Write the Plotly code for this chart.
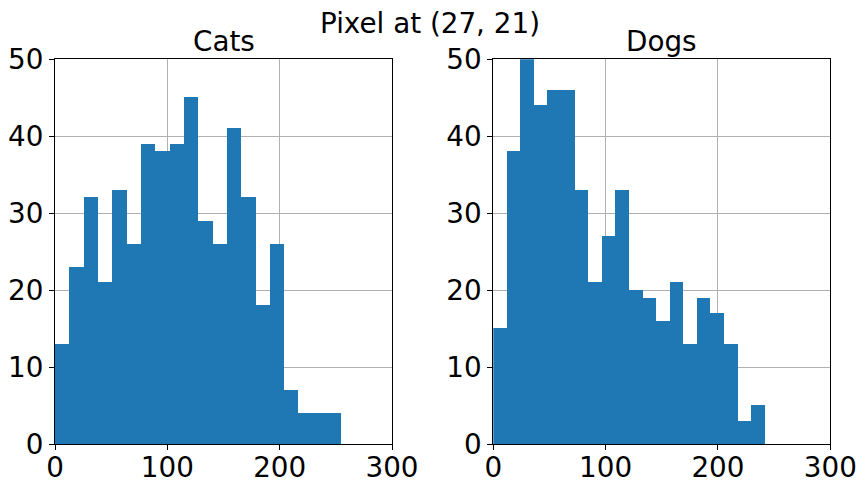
import numpy as np
import plotly.graph_objects as go

# Data (counts per bin)
cats_counts = [13, 23, 32, 21, 33, 26, 39, 38, 39, 45, 29, 26, 41, 32, 18, 26, 7, 4, 4, 4]
dogs_counts = [15, 38, 50, 44, 46, 46, 33, 21, 27, 33, 20, 19, 16, 21, 13, 19, 17, 13, 3, 5]
cats_range = [0, 255]
dogs_range = [0, 242]
x_ticks = [0, 100, 200, 300]
y_ticks = [0, 10, 20, 30, 40, 50]
titles = ["Cats", "Dogs"]
suptitle = "Pixel at (27, 21)"

BLUE = "#1f77b4"
FONT = "DejaVu Sans"
FS = 27.8
# page body has an 8px margin; figure sized to fit the 866x492 window
OFF = 8
W, H = 866 - 2 * OFF, 492 - 2 * OFF


def px_x(p):
    return (p - OFF) / W


def px_y(p):
    return 1 - (p - OFF) / H


def bins(counts, rng):
    edges = np.linspace(rng[0], rng[1], len(counts) + 1)
    centers = (edges[:-1] + edges[1:]) / 2
    width = edges[1] - edges[0]
    return centers, width


fig = go.Figure()
for i, (counts, rng) in enumerate([(cats_counts, cats_range), (dogs_counts, dogs_range)]):
    c, w = bins(counts, rng)
    fig.add_trace(go.Bar(
        x=c, y=counts, width=w, marker=dict(color=BLUE, line=dict(width=0)),
        xaxis="x" if i == 0 else "x2", yaxis="y" if i == 0 else "y2",
        showlegend=False, hoverinfo="x+y",
    ))

top, bottom = 59.3, 444.0
ydom = [px_y(bottom), px_y(top)]
xdoms = [[px_x(55), px_x(392)], [px_x(493.3), px_x(830.3)]]

axis_common = dict(
    showline=True, linecolor="black", linewidth=1.1, mirror=True,
    ticks="outside", ticklen=5, tickwidth=1.1, tickcolor="black",
    showgrid=True, gridcolor="#b0b0b0", gridwidth=1,
    zeroline=False, tickfont=dict(family=FONT, size=FS, color="black"),
    layer="above traces", automargin=False,
)

layout = dict(
    width=W, height=H, margin=dict(l=0, r=0, t=0, b=0),
    paper_bgcolor="white", plot_bgcolor="white", bargap=0,
    font=dict(family=FONT, color="black"),
)
for i in range(2):
    sfx = "" if i == 0 else "2"
    layout["xaxis" + sfx] = dict(
        axis_common, domain=xdoms[i], range=[0, 300], tickvals=x_ticks,
        anchor="y" + sfx, ticklabelstandoff=-6,
    )
    layout["yaxis" + sfx] = dict(
        axis_common, domain=ydom, range=[0, 50], tickvals=y_ticks,
        anchor="x" + sfx,
    )
fig.update_layout(**layout)

annotations = [
    dict(text=suptitle, x=px_x(429.5), y=px_y(23.5), xref="paper", yref="paper",
         xanchor="center", yanchor="middle", showarrow=False,
         font=dict(family=FONT, size=FS, color="black")),
]
for i, t in enumerate(titles):
    cx = (xdoms[i][0] + xdoms[i][1]) / 2
    annotations.append(dict(text=t, x=cx, y=px_y(42), xref="paper", yref="paper",
                            xanchor="center", yanchor="middle", showarrow=False,
                            font=dict(family=FONT, size=FS, color="black")))
fig.update_layout(annotations=annotations)

fig.write_html("out.html")
